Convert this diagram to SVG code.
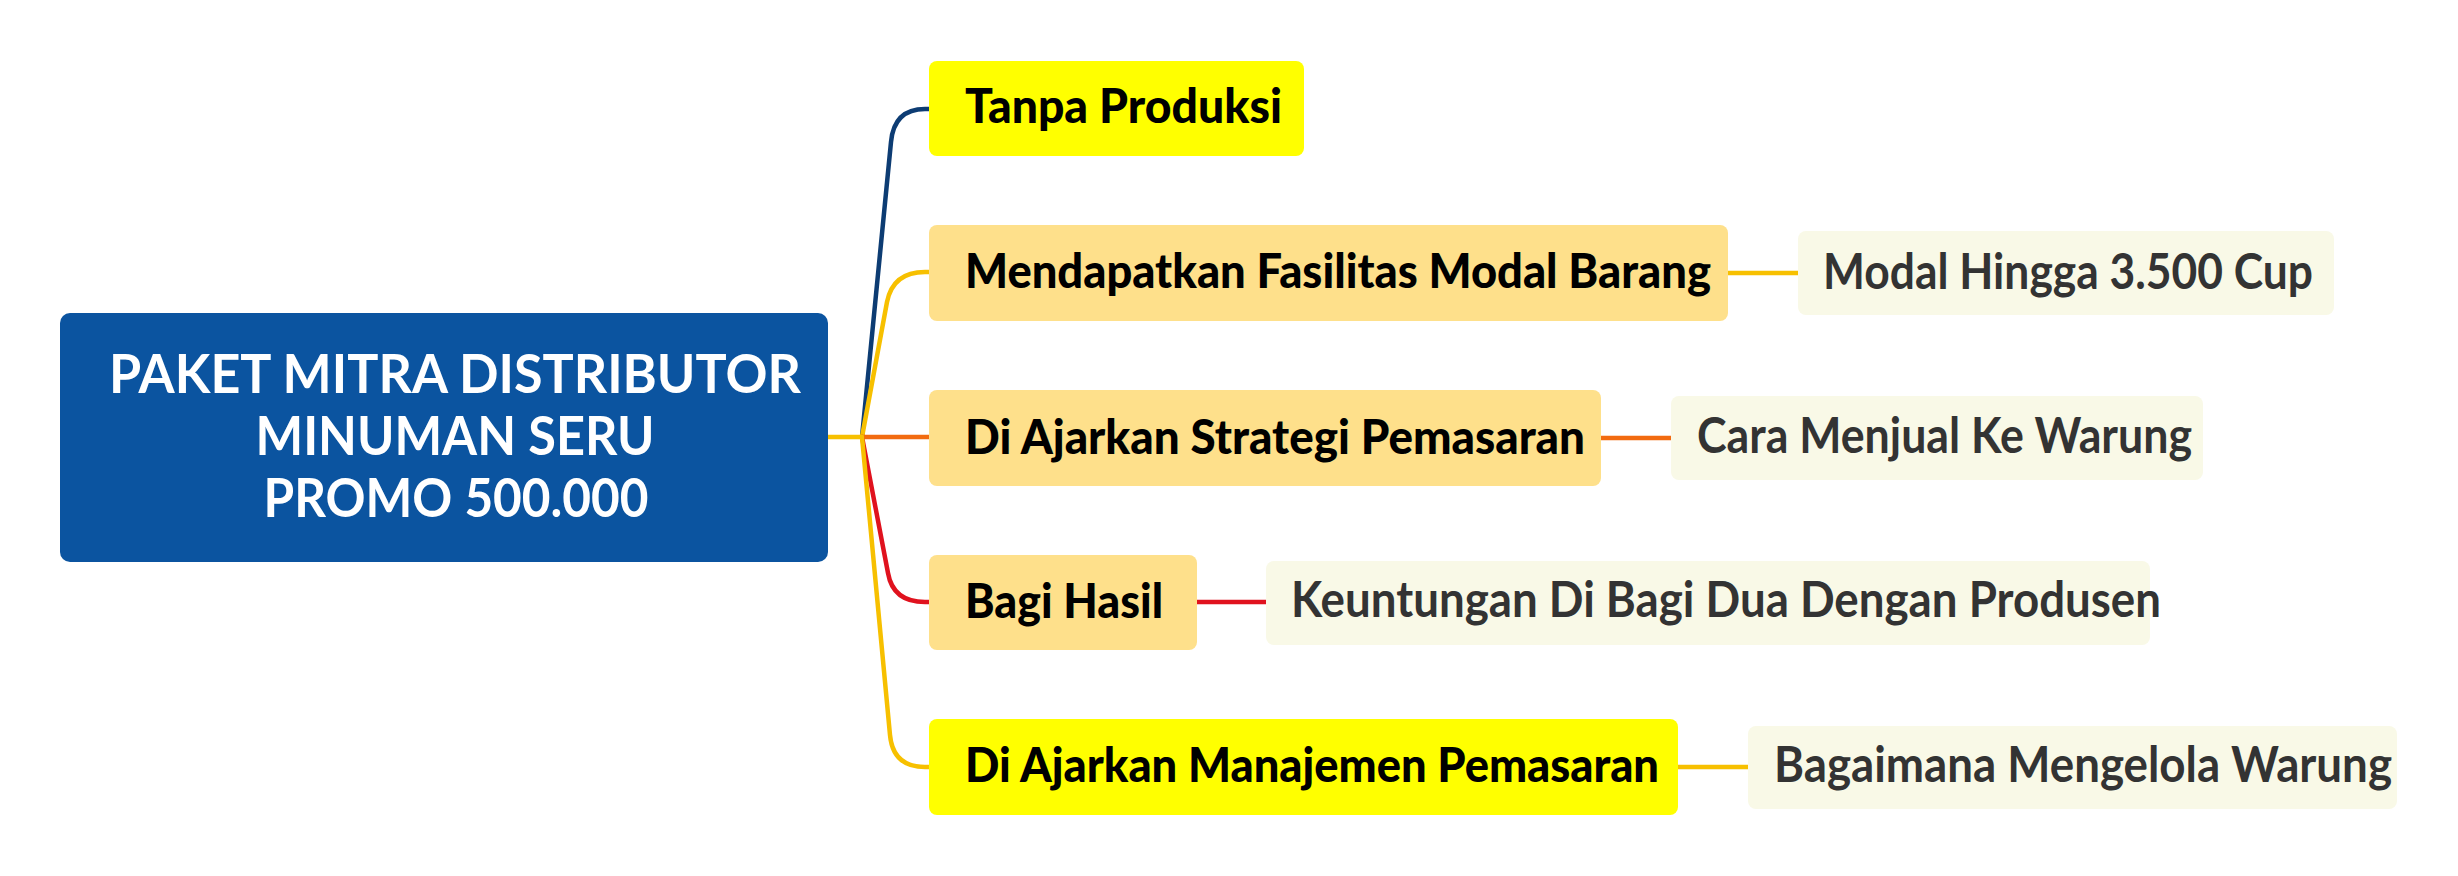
<svg xmlns="http://www.w3.org/2000/svg" width="2458" height="876" viewBox="0 0 2458 876">
<style>
.root{fill:#0b54a0}
.yel{fill:#ffff00}
.lt{fill:#fee08b}
.gc{fill:#f9f9e7}
.rt{font-family:Lato,"Liberation Sans",sans-serif;font-weight:700;font-size:53px;fill:#ffffff}
.ct{font-family:Lato,"Liberation Sans",sans-serif;font-weight:900;font-size:47px;fill:#000000}
.gt{font-family:Lato,"Liberation Sans",sans-serif;font-weight:700;font-size:49px;fill:#333333}
.ln{fill:none;stroke-width:4.5;stroke-linecap:round;stroke-linejoin:round}
</style>
<rect width="2458" height="876" fill="#ffffff"/>
<g id="connectors">
<path class="ln" stroke="#0d3c73" d="M862 437 L891 142 Q894 109 925 109 L929 109"/>
<path class="ln" stroke="#f7c000" d="M862 437 L887 302 Q893 272 925 272 L929 272"/>
<path class="ln" stroke="#f26b10" stroke-width="5" d="M862 437 L929 437"/>
<path class="ln" stroke="#e0121e" d="M862 437 L888 573 Q893 602 925 602 L929 602"/>
<path class="ln" stroke="#f7c000" d="M862 437 L890 735 Q893 767 925 767 L929 767"/>
<path class="ln" stroke="#f7c000" stroke-width="5" d="M828 437 L862 437"/>
<path class="ln" stroke="#f7c000" d="M1728 273 L1798 273"/>
<path class="ln" stroke="#f26b10" d="M1601 438 L1671 438"/>
<path class="ln" stroke="#e0121e" d="M1197 602 L1266 602"/>
<path class="ln" stroke="#f7c000" d="M1678 767 L1748 767"/>
</g>
<g id="root">
<rect class="root" x="60" y="313" width="768" height="249" rx="10"/>
<text class="rt" x="455" y="393" text-anchor="middle" textLength="692" lengthAdjust="spacingAndGlyphs">PAKET MITRA DISTRIBUTOR</text>
<text class="rt" x="455" y="455" text-anchor="middle" textLength="399" lengthAdjust="spacingAndGlyphs">MINUMAN SERU</text>
<text class="rt" x="456" y="517" text-anchor="middle" textLength="385" lengthAdjust="spacingAndGlyphs">PROMO 500.000</text>
</g>
<g id="n1">
<rect class="yel" x="929" y="61" width="375" height="95" rx="8"/>
<text class="ct" x="965" y="123" textLength="317" lengthAdjust="spacingAndGlyphs">Tanpa Produksi</text>
</g>
<g id="n2">
<rect class="lt" x="929" y="225" width="799" height="96" rx="8"/>
<text class="ct" x="965" y="288" textLength="746" lengthAdjust="spacingAndGlyphs">Mendapatkan Fasilitas Modal Barang</text>
</g>
<g id="n2a">
<rect class="gc" x="1798" y="231" width="536" height="84" rx="8"/>
<text class="gt" x="1823" y="289" textLength="490" lengthAdjust="spacingAndGlyphs">Modal Hingga 3.500 Cup</text>
</g>
<g id="n3">
<rect class="lt" x="929" y="390" width="672" height="96" rx="8"/>
<text class="ct" x="965" y="454" textLength="620" lengthAdjust="spacingAndGlyphs">Di Ajarkan Strategi Pemasaran</text>
</g>
<g id="n3a">
<rect class="gc" x="1671" y="396" width="532" height="84" rx="8"/>
<text class="gt" x="1697" y="453" textLength="495" lengthAdjust="spacingAndGlyphs">Cara Menjual Ke Warung</text>
</g>
<g id="n4">
<rect class="lt" x="929" y="555" width="268" height="95" rx="8"/>
<text class="ct" x="965" y="618" textLength="198" lengthAdjust="spacingAndGlyphs">Bagi Hasil</text>
</g>
<g id="n4a">
<rect class="gc" x="1266" y="561" width="884" height="84" rx="8"/>
<text class="gt" x="1291" y="617" textLength="870" lengthAdjust="spacingAndGlyphs">Keuntungan Di Bagi Dua Dengan Produsen</text>
</g>
<g id="n5">
<rect class="yel" x="929" y="719" width="749" height="96" rx="8"/>
<text class="ct" x="965" y="782" textLength="694" lengthAdjust="spacingAndGlyphs">Di Ajarkan Manajemen Pemasaran</text>
</g>
<g id="n5a">
<rect class="gc" x="1748" y="726" width="649" height="83" rx="8"/>
<text class="gt" x="1774" y="782" textLength="618" lengthAdjust="spacingAndGlyphs">Bagaimana Mengelola Warung</text>
</g>
</svg>
